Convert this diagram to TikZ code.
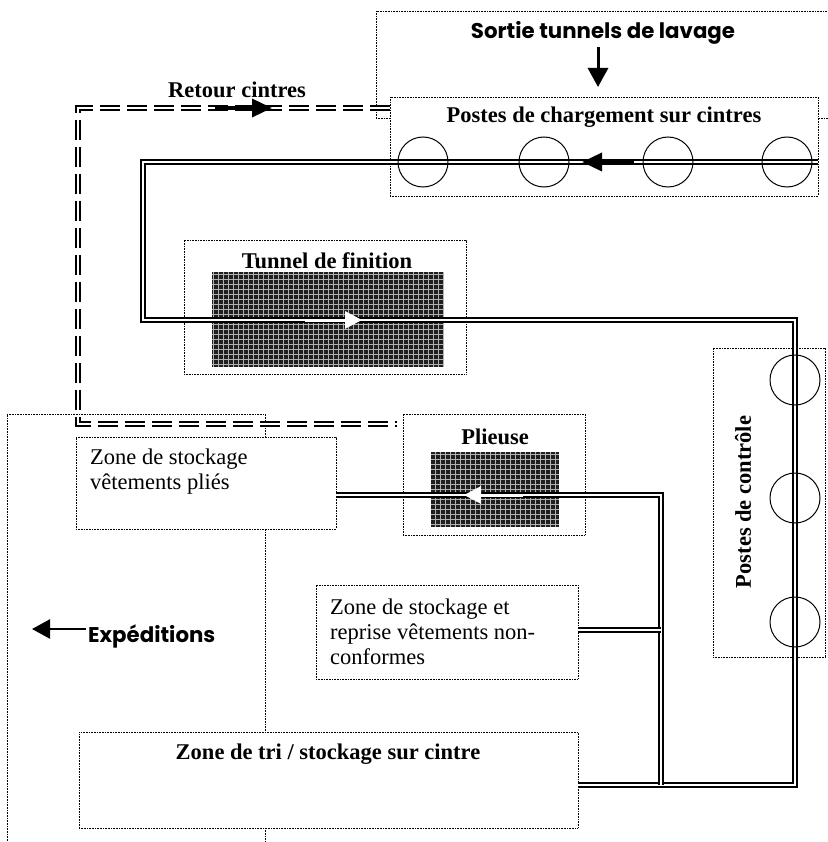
\documentclass[tikz,border=0pt]{standalone}
\usepackage{fontspec}
\setmainfont{Liberation Serif}
\newfontfamily\gothic{Poppins}
\usetikzlibrary{arrows.meta}
\begin{document}
\begin{tikzpicture}[x=1pt,y=-1pt,
  dotline/.style={line width=0.8pt, dash pattern=on 0.8pt off 0.8pt},
  zone/.style={dotline, draw=black, fill=white, anchor=north west, inner sep=0pt, outer sep=0pt},
  frame/.style={dotline, draw=black, anchor=north west, inner sep=0pt, outer sep=0pt},
  dark/.style={fill=black!88, anchor=north west, inner sep=0pt, outer sep=0pt,
    path picture={\draw[gray!60, line width=0.5pt, step=5pt] (path picture bounding box.south west) grid (path picture bounding box.north east);}},
  conv/.style={draw=black, line width=1.4pt, double=white, double distance=2.8pt, line join=miter},
  ret/.style={draw=black, line width=1.7pt, double=white, double distance=2.6pt, dash pattern=on 20pt off 7pt},
  poste/.style={draw=black, line width=1pt, circle, minimum size=50pt, inner sep=0pt},
  bt/.style={font=\bfseries\fontsize{22.5}{25}\selectfont, inner sep=0pt},
  rt/.style={font=\fontsize{22.5}{25}\selectfont, inner sep=0pt, align=left},
  st/.style={font=\gothic\bfseries\fontsize{21.3}{24}\selectfont, inner sep=0pt},
  blk/.style={draw=black, line width=3.5pt, -{Triangle[length=20pt,width=18pt]}},
  wht/.style={draw=white, line width=3pt, -{Triangle[length=17pt,width=17pt]}},
]
\useasboundingbox (0,0) rectangle (827,842);
\fill[white] (0,0) rectangle (827,842);

% frames (dotted, open on the page edge)
\node[frame, minimum width=452pt, minimum height=107pt] (sortie) at (376,11) {};
\node[frame, minimum width=258pt, minimum height=440pt] (expz) at (7,414) {};

% boxes
\node[zone, minimum width=428pt, minimum height=99pt] (chg) at (390,97) {};
\node[zone, minimum width=282pt, minimum height=134pt] (tun) at (184,240) {};
\node[zone, minimum width=182pt, minimum height=121pt] (ple) at (403,414) {};
\node[zone, minimum width=260pt, minimum height=92pt] (pli) at (76,437) {};
\node[zone, minimum width=262pt, minimum height=94pt] (nc) at (316,585) {};
\node[zone, minimum width=499pt, minimum height=96pt] (tri) at (79,732) {};
\node[zone, minimum width=112pt, minimum height=309pt] (ctl) at (713,348) {};

% dark machines
\node[dark, minimum width=232pt, minimum height=95pt] (tdark) at (212,272) {};
\node[dark, minimum width=128pt, minimum height=75pt] (pdark) at (431,452) {};

% return line for hangers
\coordinate (r1) at (78,108);
\coordinate (r2) at (78,424);
\draw[ret] (chg.west |- r1) -- (r1) -- (r2) -- ([xshift=-6pt]ple.west |- r2);

% conveyor
\coordinate (k1) at (143,162);
\coordinate (k2) at (143,320);
\coordinate (k3) at (795,320);
\coordinate (k4) at (795,785);
\coordinate (j1) at (661,495);
\coordinate (j2) at (661,785);
\coordinate (j3) at (661,630);
\draw[conv] (chg.east |- k1) -- (k1) -- (k2) -- (k3) -- (k4) -- (tri.east |- k4);
\draw[conv] (j2) -- (j1) -- (pli.east |- j1);
\draw[conv] (nc.east |- j3) -- (j3);

% stations
\node[poste] (c1) at (423,162) {};
\node[poste] (c2) at (544,162) {};
\node[poste] (c3) at (668,162) {};
\node[poste] (c4) at (787,162) {};
\node[poste] (d1) at (795,380) {};
\node[poste] (d2) at (795,498) {};
\node[poste] (d3) at (795,622) {};

% arrows
\coordinate (a1s) at (634,162); \coordinate (a1e) at (582,162);
\draw[blk] (a1s) -- (a1e);
\coordinate (a2s) at (305,320); \coordinate (a2e) at (362,320);
\draw[wht] (a2s) -- (a2e);
\coordinate (a3s) at (523,495); \coordinate (a3e) at (464,495);
\draw[wht] (a3s) -- (a3e);
\coordinate (a4s) at (215,108); \coordinate (a4e) at (272,108);
\draw[blk] (a4s) -- (a4e);
\coordinate (a5s) at (598,47); \coordinate (a5e) at (598,87);
\draw[blk, line width=3pt, -{Triangle[length=19pt,width=20pt]}] (a5s) -- (a5e);
\coordinate (a6s) at (86,629); \coordinate (a6e) at (32,629);
\draw[blk, line width=2.5pt, -{Triangle[length=18pt,width=19pt]}] (a6s) -- (a6e);

% texts
\node[st] (tsortie) at (603,33) {Sortie tunnels de lavage};
\node[bt] (tchg) at (604,117) {Postes de chargement sur cintres};
\node[bt] (tret) at (237,90) {Retour cintres};
\node[bt] (ttun) at (327,261) {Tunnel de finition};
\node[bt] (tple) at (495,437) {Plieuse};
\node[bt, rotate=90] (tctl) at (743,502) {Postes de contrôle};
\node[bt] (ttri) at (328,754) {Zone de tri / stockage sur cintre};
\node[rt, anchor=west] (tpli) at (90,472) {Zone de stockage\\vêtements pliés};
\node[rt, anchor=west] (tnc) at (330,632) {Zone de stockage et\\reprise vêtements non-\\conformes};
\node[st, anchor=west] (texp) at (88,636) {Expéditions};
\end{tikzpicture}
\end{document}
